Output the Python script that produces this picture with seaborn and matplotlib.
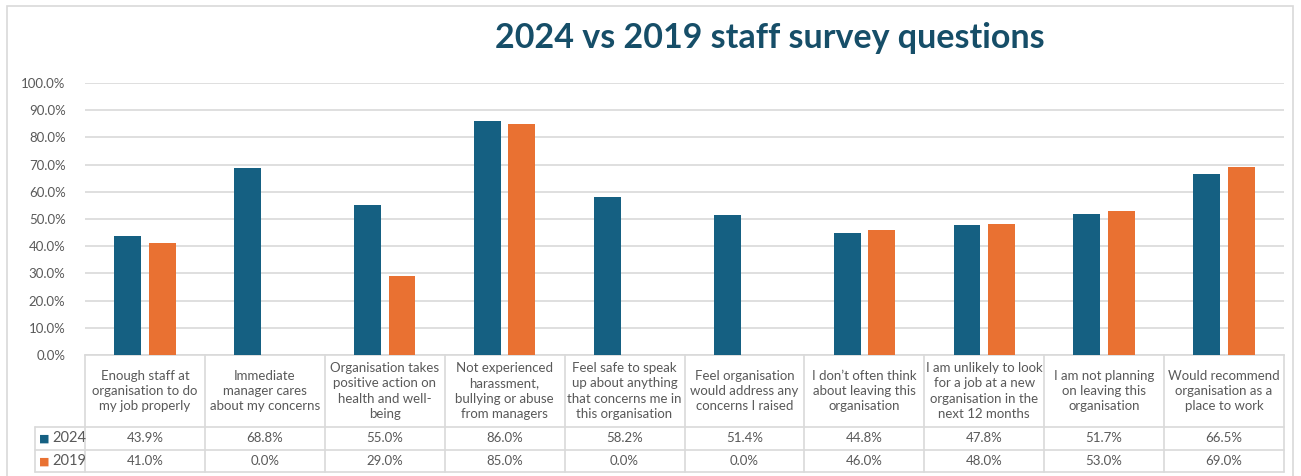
import numpy as np
import pandas as pd
import matplotlib
matplotlib.use("Agg")
import matplotlib.pyplot as plt
import seaborn as sns
from matplotlib.patches import Rectangle
from matplotlib.lines import Line2D
from matplotlib.ticker import FuncFormatter
from matplotlib.transforms import blended_transform_factory

# ---- data -------------------------------------------------------------
questions = [
    "Enough staff at\norganisation to do\nmy job properly",
    "Immediate\nmanager cares\nabout my concerns",
    "Organisation takes\npositive action on\nhealth and well-\nbeing",
    "Not experienced\nharassment,\nbullying or abuse\nfrom managers",
    "Feel safe to speak\nup about anything\nthat concerns me in\nthis organisation",
    "Feel organisation\nwould address any\nconcerns I raised",
    "I don\u2019t often think\nabout leaving this\norganisation",
    "I am unlikely to look\nfor a job at a new\norganisation in the\nnext 12 months",
    "I am not planning\non leaving this\norganisation",
    "Would recommend\norganisation as a\nplace to work",
]
years = ["2024", "2019"]
pct_2024 = [43.9, 68.8, 55.0, 86.0, 58.2, 51.4, 44.8, 47.8, 51.7, 66.5]
pct_2019 = [41.0, 0.0, 29.0, 85.0, 0.0, 0.0, 46.0, 48.0, 53.0, 69.0]
y_ticks = [0, 10, 20, 30, 40, 50, 60, 70, 80, 90, 100]

series = {"2024": pct_2024, "2019": pct_2019}
df = pd.DataFrame({
    "question": questions * len(years),
    "year": [y for y in years for _ in questions],
    "value": [v / 100 for y in years for v in series[y]],
})

# ---- style ------------------------------------------------------------
BLUE = "#156082"
ORANGE = "#E97132"
GRID = "#D9D9D9"
TEXT = "#595959"
palette = {"2024": BLUE, "2019": ORANGE}

sns.set_theme(style="white")
plt.rcParams["font.family"] = ["Lato", "DejaVu Sans"]

W, H = 1301, 476
fig = plt.figure(figsize=(W / 100, H / 100), dpi=100)
fig.patch.set_facecolor("white")

# plot area in pixel terms
ax_left, ax_right, ax_top, ax_bottom = 85, 1284, 83, 355
ax = fig.add_axes([ax_left / W, (H - ax_bottom) / H,
                   (ax_right - ax_left) / W, (ax_bottom - ax_top) / H])

sns.barplot(data=df, x="question", y="value", hue="year", hue_order=years,
            palette=palette, width=0.576, gap=0.22, saturation=1,
            linewidth=0, legend=False, ax=ax, zorder=3)

ax.set_xlim(-0.5, len(questions) - 0.5)
ax.set_ylim(0, 1)
ax.set_yticks([t / 100 for t in y_ticks])
ax.yaxis.set_major_formatter(FuncFormatter(lambda v, _: f"{v * 100:.1f}%"))
ax.tick_params(axis="y", length=0, pad=14, labelsize=9.5, labelcolor=TEXT)
ax.set_xticks([])
ax.set_xlabel("")
ax.set_ylabel("")
ax.yaxis.grid(True, color=GRID, linewidth=1.2, zorder=0)
ax.set_axisbelow(True)
for side in ["left", "right", "top"]:
    ax.spines[side].set_visible(False)
ax.spines["bottom"].set_color(GRID)
ax.spines["bottom"].set_linewidth(1.2)

# ---- data table under the axis ---------------------------------------
trans = blended_transform_factory(ax.transData, ax.transAxes)
px_per_unit = ax_bottom - ax_top
col_px = (ax_right - ax_left) / len(questions)


def below(px):
    """Axes-fraction y for a point px pixels below the x axis."""
    return -px / px_per_unit


y_cat = below(72)     # bottom of the category row
y_r1 = below(95)      # bottom of the 2024 row
y_r2 = below(117)     # bottom of the 2019 row
x_leg = -0.5 - 50 / col_px
n = len(questions)

line_kw = dict(color=GRID, linewidth=1.2, transform=trans, clip_on=False)
for i in range(n + 1):
    ax.add_line(Line2D([i - 0.5, i - 0.5], [0, y_r2], **line_kw))
ax.add_line(Line2D([x_leg, x_leg], [y_cat, y_r2], **line_kw))
for yy in (y_cat, y_r1, y_r2):
    ax.add_line(Line2D([x_leg, n - 0.5], [yy, yy], **line_kw))

for i, q in enumerate(questions):
    ax.text(i, y_cat / 2, q, transform=trans, ha="center", va="center",
            fontsize=9.5, color=TEXT, linespacing=1.32)
    ax.text(i, (y_cat + y_r1) / 2, f"{pct_2024[i]:.1f}%", transform=trans,
            ha="center", va="center", fontsize=9.5, color=TEXT)
    ax.text(i, (y_r1 + y_r2) / 2, f"{pct_2019[i]:.1f}%", transform=trans,
            ha="center", va="center", fontsize=9.5, color=TEXT)

# legend keys inside the table's first column
for yr, (ytop, ybot) in zip(years, [(y_cat, y_r1), (y_r1, y_r2)]):
    ym = (ytop + ybot) / 2
    ax.text(x_leg + 4 / col_px, ym, "\u25A0", transform=trans, ha="left",
            va="center", fontsize=8, color=palette[yr])
    ax.text(x_leg + 17 / col_px, ym, yr, transform=trans, ha="left",
            va="center", fontsize=10.5, color=TEXT)

# ---- title and chart frame -------------------------------------------
fig.text(770 / W, 1 - 38 / H, "2024 vs 2019 staff survey questions",
         ha="center", va="center", fontsize=24.5, fontweight="bold",
         color="#164E68")
fig.patches.append(Rectangle((7 / W, -0.05), (1293 - 7) / W, 1.05 - 6 / H,
                             transform=fig.transFigure, fill=False,
                             edgecolor=GRID, linewidth=1.2))

fig.savefig("out.png", dpi=100, facecolor="white")
